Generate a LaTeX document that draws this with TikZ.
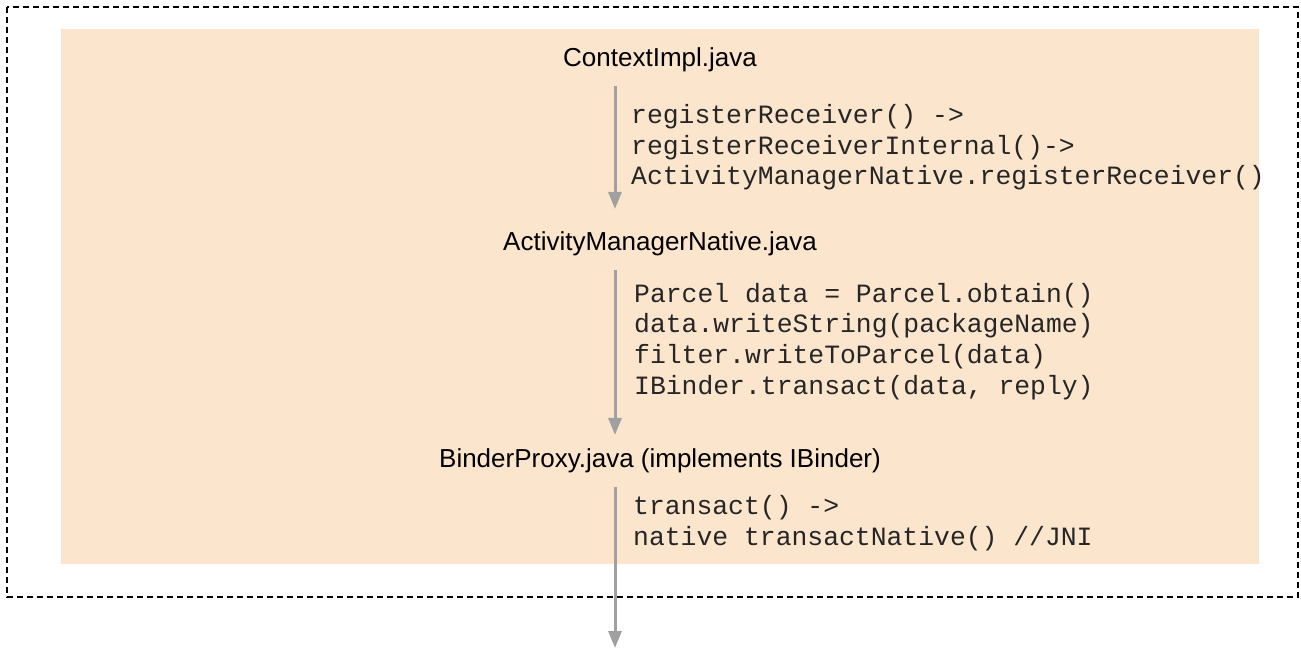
\documentclass[tikz,border=0pt]{standalone}
\usepackage{fontspec}
\setmainfont{Liberation Sans}
\newfontfamily\codefont{Liberation Mono}
\usetikzlibrary{arrows.meta}

\definecolor{panelfill}{HTML}{FCE5CD}
\definecolor{flowgray}{HTML}{A0A0A0}
\definecolor{inkcol}{HTML}{262626}

\tikzset{
  filetitle/.style={anchor=base, inner sep=0pt, text=black,
    font=\fontsize{26}{31}\selectfont},
  codeline/.style={anchor=base west, inner sep=0pt, text=inkcol,
    font=\codefont\fontsize{26.4}{31}\selectfont},
  flow/.style={draw=flowgray, line width=3pt,
    -{Triangle[width=13pt,length=17pt]}},
  frame/.style={draw=black, line width=1.4pt, dash pattern=on 6pt off 4pt},
}

\begin{document}
\begin{tikzpicture}[x=1pt, y=-1pt]
  \useasboundingbox (0,0) rectangle (1301,652);

  % outer dashed boundary and shaded panel
  \draw[frame] (7,7) rectangle (1298,597);
  \fill[panelfill] (61,29) rectangle (1259,564);

  % x position shared by the vertical flow
  \coordinate (ax) at (615,0);

  % file titles
  \node[filetitle] (ctx) at (660,67) {ContextImpl.java};
  \node[filetitle] (amn) at (660,251) {ActivityManagerNative.java};
  \node[filetitle] (bp)  at (660,467) {BinderProxy.java (implements IBinder)};

  % call chain in ContextImpl
  \node[codeline] (c1a) at (631,124)   {registerReceiver() ->};
  \node[codeline] (c1b) at (631,154.5) {registerReceiverInternal()->};
  \node[codeline] (c1c) at (631,185)   {ActivityManagerNative.registerReceiver()};

  % parcel marshalling in ActivityManagerNative
  \node[codeline] (c2a) at (634,302.5) {Parcel data = Parcel.obtain()};
  \node[codeline] (c2b) at (634,333)   {data.writeString(packageName)};
  \node[codeline] (c2c) at (634,363.5) {filter.writeToParcel(data)};
  \node[codeline] (c2d) at (634,394)   {IBinder.transact(data, reply)};

  % JNI hop in BinderProxy
  \node[codeline] (c3a) at (633,514) {transact() ->};
  \node[codeline] (c3b) at (633,545) {native transactNative() //JNI};

  % free end of the last arrow
  \coordinate (out) at (615,648);

  % vertical flow arrows
  \draw[flow] ([yshift=-13pt]ctx.south -| ax) -- ([yshift=23pt]amn.north -| ax);
  \draw[flow] ([yshift=-13pt]amn.south -| ax) -- ([yshift=13pt]bp.north -| ax);
  \draw[flow] ([yshift=-14pt]bp.south -| ax) -- (out);
\end{tikzpicture}
\end{document}
